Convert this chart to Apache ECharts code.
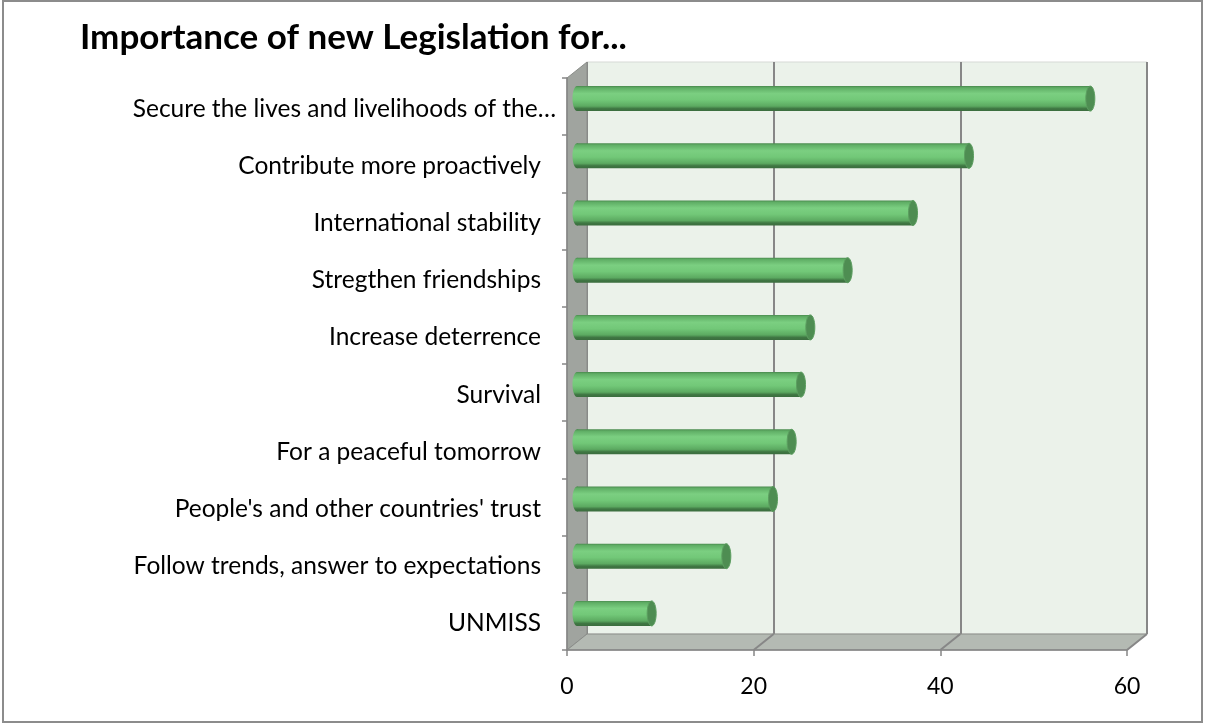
<!DOCTYPE html>
<html>
<head>
<meta charset="utf-8">
<script src="https://cdn.jsdelivr.net/npm/echarts@6/dist/echarts.min.js"></script>
<style>
html,body{margin:0;padding:0;background:#fff;}
#c{width:1205px;height:725px;}
</style>
</head>
<body>
<div id="c"></div>
<script>
const categories = [
  'Secure the lives and livelihoods of the…',
  'Contribute more proactively',
  'International stability',
  'Stregthen friendships',
  'Increase deterrence',
  'Survival',
  'For a peaceful tomorrow',
  "People's and other countries' trust",
  'Follow trends, answer to expectations',
  'UNMISS'
];
const values = [55, 42, 36, 29, 25, 24, 23, 21, 16, 8];
const xMin = 0, xMax = 60, xInterval = 20;
const titleText = 'Importance of new Legislation for...';

const FONT = 'Lato, "Liberation Sans", sans-serif';
const FRONT = {left: 567, top: 78, width: 560, height: 572};
const DX = 20, DY = -16;
const AX = '#868686';

const chart = echarts.init(document.getElementById('c'), null, {renderer: 'canvas'});

const cylGrad = () => new echarts.graphic.LinearGradient(0, 0, 0, 1, [
  {offset: 0, color: '#4A8A4E'},
  {offset: 0.07, color: '#5FAE65'},
  {offset: 0.3, color: '#7BCF81'},
  {offset: 0.55, color: '#72C878'},
  {offset: 0.8, color: '#5CAA61'},
  {offset: 0.9, color: '#3F7743'},
  {offset: 1, color: '#3B6D3E'}
]);

function renderCyl(params, api) {
  const idx = api.value(0);
  const val = api.value(1);
  const p0 = api.coord([0, idx]);
  const p1 = api.coord([val, idx]);
  const h = 25, rx = 4.5;
  const cy = p0[1];
  return {
    type: 'group',
    children: [
      {type: 'ellipse', shape: {cx: p0[0], cy: cy, rx: rx, ry: h / 2}, style: {fill: cylGrad()}},
      {type: 'rect', shape: {x: p0[0], y: cy - h / 2, width: p1[0] - p0[0], height: h}, style: {fill: cylGrad()}},
      {type: 'ellipse', shape: {cx: p1[0], cy: cy, rx: rx, ry: h / 2}, style: {fill: '#4E8D52', stroke: '#5C9E60', lineWidth: 1}}
    ]
  };
}

const option = {
  backgroundColor: '#ffffff',
  animation: false,
  textStyle: {fontFamily: FONT},
  grid: [
    {left: FRONT.left, top: FRONT.top, width: FRONT.width, height: FRONT.height, containLabel: false},
    {left: FRONT.left + DX / 2, top: FRONT.top + DY / 2, width: FRONT.width, height: FRONT.height, containLabel: false},
    {left: FRONT.left + DX, top: FRONT.top + DY, width: FRONT.width, height: FRONT.height, containLabel: false,
     show: true, backgroundColor: '#EBF2EA', borderWidth: 1, borderColor: '#D6D9D5', z: -1}
  ],
  xAxis: [
    {gridIndex: 0, type: 'value', min: xMin, max: xMax, interval: xInterval,
     axisLine: {show: true, lineStyle: {color: AX, width: 1.5}},
     axisTick: {show: true, length: 6, lineStyle: {color: AX, width: 1.5}},
     axisLabel: {color: '#000', fontSize: 23, fontFamily: FONT, margin: 25},
     splitLine: {show: false}, z: 5},
    {gridIndex: 1, type: 'value', min: xMin, max: xMax, show: false},
    {gridIndex: 2, type: 'value', min: xMin, max: xMax, interval: xInterval,
     axisLine: {show: false}, axisTick: {show: false}, axisLabel: {show: false},
     splitLine: {show: true, lineStyle: {color: '#878787', width: 2}}}
  ],
  yAxis: [
    {gridIndex: 0, type: 'category', data: categories, inverse: true,
     axisLine: {show: true, lineStyle: {color: AX, width: 1.5}},
     axisTick: {show: true, length: 5, lineStyle: {color: AX, width: 1.5}},
     axisLabel: {color: '#000', fontSize: 24.5, fontFamily: FONT, margin: 11,
       formatter: (v, i) => i === 0 ? '{a|' + v + '}' : '{b|' + v + '}',
       rich: {
         a: {fontSize: 24.5, fontFamily: FONT, color: '#000', padding: [4, 0, 0, 0]},
         b: {fontSize: 24.5, fontFamily: FONT, color: '#000', padding: [4, 15, 0, 0]}
       }},
     z: 5},
    {gridIndex: 1, type: 'category', data: categories, inverse: true, show: false},
    {gridIndex: 2, type: 'category', data: categories, inverse: true, show: false}
  ],
  series: [{
    type: 'custom',
    xAxisIndex: 1, yAxisIndex: 1,
    renderItem: renderCyl,
    encode: {x: 1, y: 0},
    data: values.map((v, i) => [i, v]),
    z: 10
  }]
};
chart.setOption(option);

// Decorative 3D walls derived from the axes' pixel positions
const fx = v => chart.convertToPixel({xAxisIndex: 0}, v);
const x0 = fx(xMin), x1 = fx(xMax);
const yTop = FRONT.top, yBot = FRONT.top + FRONT.height;
const g = [];
g.push({type: 'polygon', z: 1, shape: {points: [[x0, yTop], [x0 + DX, yTop + DY], [x0 + DX, yBot + DY], [x0, yBot]]},
  style: {fill: '#A0A49F', stroke: '#8A8D89', lineWidth: 1}});
g.push({type: 'polygon', z: 1, shape: {points: [[x0, yBot], [x0 + DX, yBot + DY], [x1 + DX, yBot + DY], [x1, yBot]]},
  style: {fill: '#B4BAB3', stroke: '#8A8D89', lineWidth: 1}});
for (let v = xMin + xInterval; v <= xMax; v += xInterval) {
  const px = fx(v);
  g.push({type: 'line', z: 1, shape: {x1: px, y1: yBot, x2: px + DX, y2: yBot + DY}, style: {stroke: '#878787', lineWidth: 2}});
}
g.push({type: 'rect', z: 0, shape: {x: 3, y: 1, width: 1199, height: 721}, style: {fill: null, stroke: '#8C8C8C', lineWidth: 2}});
g.push({type: 'text', z: 5, left: 80, top: 20, style: {text: titleText, font: 'bold 35px ' + FONT, fill: '#000'}});
chart.setOption({graphic: g});
</script>
</body>
</html>
